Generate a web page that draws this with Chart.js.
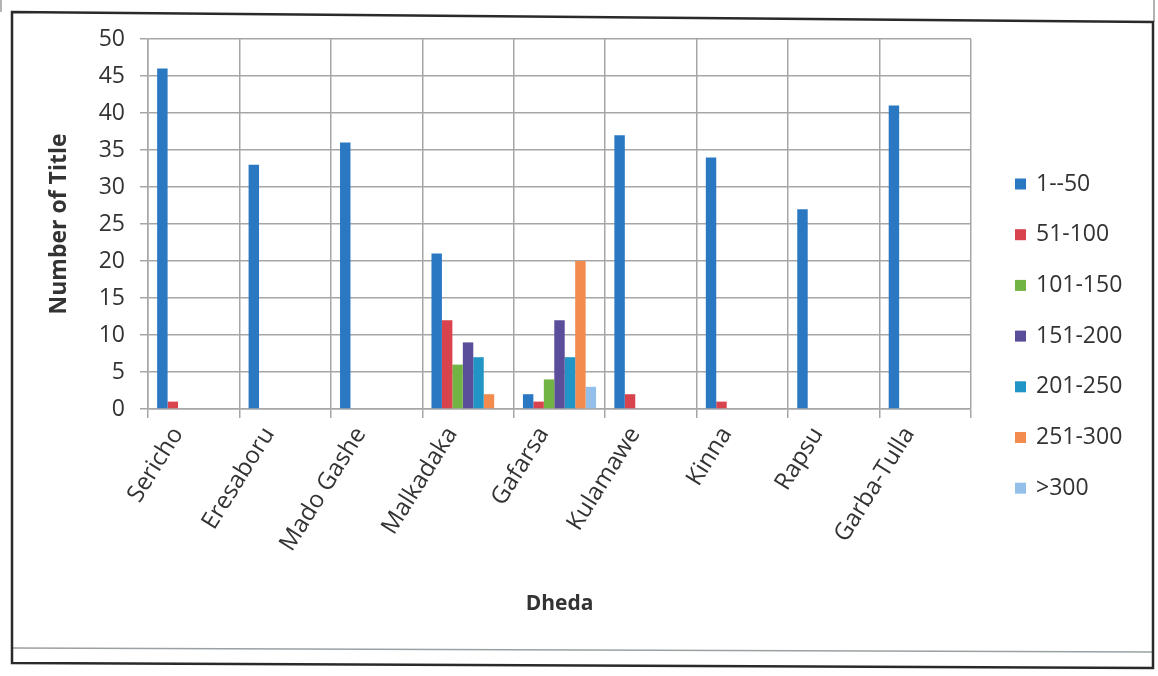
<!DOCTYPE html>
<html>
<head>
<meta charset="utf-8">
<script src="https://cdn.jsdelivr.net/npm/chart.js@4.4.1/dist/chart.umd.min.js"></script>
<style>
  html, body { margin: 0; padding: 0; background: #ffffff; }
  #wrap { width: 1158px; height: 676px; position: relative; }
</style>
</head>
<body>
<div id="wrap"><canvas id="c" width="1158" height="676"></canvas></div>
<script>
const categories = ['Sericho', 'Eresaboru', 'Mado Gashe', 'Malkadaka', 'Gafarsa', 'Kulamawe', 'Kinna', 'Rapsu', 'Garba-Tulla'];
const seriesNames = ['1--50', '51-100', '101-150', '151-200', '201-250', '251-300', '>300'];
const s1to50    = [46, 33, 36, 21, 2, 37, 34, 27, 41];
const s51to100  = [1, 0, 0, 12, 1, 2, 1, 0, 0];
const s101to150 = [0, 0, 0, 6, 4, 0, 0, 0, 0];
const s151to200 = [0, 0, 0, 9, 12, 0, 0, 0, 0];
const s201to250 = [0, 0, 0, 7, 7, 0, 0, 0, 0];
const s251to300 = [0, 0, 0, 2, 20, 0, 0, 0, 0];
const sOver300  = [0, 0, 0, 0, 3, 0, 0, 0, 0];
const yTicks = [0, 5, 10, 15, 20, 25, 30, 35, 40, 45, 50];
const yTitle = 'Number of Title';
const xTitle = 'Dheda';

const colors = ['#2b78c2', '#d9434e', '#72b443', '#5a4e9b', '#2095c6', '#f38b4f', '#93c0ea'];
const seriesValues = [s1to50, s51to100, s101to150, s151to200, s201to250, s251to300, sOver300];

const textColor = '#333333';
const FONT = '"Open Sans", "Liberation Sans", sans-serif';

const framePlugin = {
  id: 'frame',
  beforeDraw(chart) {
    const ctx = chart.ctx;
    ctx.save();
    ctx.fillStyle = '#ffffff';
    ctx.fillRect(0, 0, chart.width, chart.height);
    ctx.strokeStyle = '#9a9a9a';
    ctx.lineWidth = 1.5;
    ctx.beginPath();
    ctx.moveTo(1, 0); ctx.lineTo(1, 12);
    ctx.moveTo(1154, 0); ctx.lineTo(1154, 22);
    ctx.stroke();
    ctx.strokeStyle = '#9aa0a4';
    ctx.lineWidth = 1.5;
    ctx.beginPath();
    ctx.moveTo(12, 648); ctx.lineTo(1153, 652);
    ctx.stroke();
    ctx.strokeStyle = '#2a2a2a';
    ctx.lineWidth = 2.5;
    ctx.beginPath();
    ctx.moveTo(12, 12);
    ctx.lineTo(1153, 22);
    ctx.lineTo(1153, 668);
    ctx.lineTo(12, 663);
    ctx.closePath();
    ctx.stroke();
    ctx.restore();
  },
  afterDraw(chart) {
    const ctx = chart.ctx;
    ctx.save();
    ctx.font = '23px ' + FONT;
    ctx.textBaseline = 'middle';
    ctx.textAlign = 'left';
    chart.data.datasets.forEach((ds, i) => {
      const y = 184 + i * 50.7;
      ctx.fillStyle = ds.backgroundColor;
      ctx.fillRect(1015, y - 5.5, 11, 11);
      ctx.fillStyle = textColor;
      ctx.fillText(ds.label, 1036, y);
    });
    ctx.restore();
  }
};

const datasets = seriesNames.map((name, i) => ({
  label: name,
  data: seriesValues[i],
  backgroundColor: colors[i],
  borderWidth: 0,
  categoryPercentage: 0.8,
  barPercentage: 1.0
}));

new Chart(document.getElementById('c'), {
  type: 'bar',
  data: { labels: categories, datasets: datasets },
  options: {
    responsive: false,
    animation: false,
    devicePixelRatio: 1,
    layout: { padding: { left: 10, right: 187, top: 39, bottom: 56 } },
    plugins: {
      legend: { display: false },
      tooltip: { enabled: false }
    },
    scales: {
      x: {
        grid: { color: '#a6a6a6', lineWidth: 1.5, offset: true, tickLength: 9, drawTicks: true },
        border: { color: '#a6a6a6', width: 1.5 },
        ticks: {
          color: textColor,
          font: { family: FONT, size: 24 },
          minRotation: 58,
          maxRotation: 58,
          padding: 4,
          labelOffset: -16
        },
        title: {
          display: true,
          text: xTitle,
          color: textColor,
          font: { family: FONT, size: 21, weight: 'bold' },
          padding: { top: 0, bottom: 3 }
        },
        afterFit(scale) { scale.height = 211; }
      },
      y: {
        min: 0,
        max: 50,
        afterBuildTicks(scale) { scale.ticks = yTicks.map(v => ({ value: v })); },
        grid: { color: '#a6a6a6', lineWidth: 1.5, tickLength: 8 },
        border: { color: '#a6a6a6', width: 1.5 },
        ticks: {
          color: textColor,
          font: { family: FONT, size: 23 },
          padding: 15
        },
        title: {
          display: true,
          text: yTitle,
          color: textColor,
          font: { family: FONT, size: 23, weight: 'bold' },
          padding: { top: 36, bottom: 0 }
        },
        afterFit(scale) { scale.width = 138; }
      }
    }
  },
  plugins: [framePlugin]
});
</script>
</body>
</html>
